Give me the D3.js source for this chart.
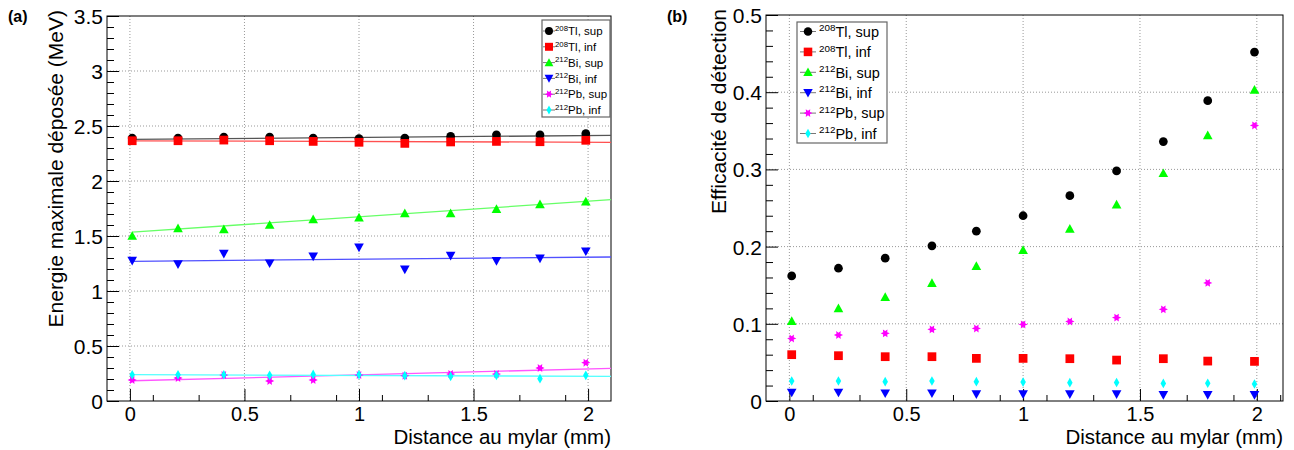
<!DOCTYPE html>
<html><head><meta charset="utf-8">
<script src="https://cdn.jsdelivr.net/npm/d3@7"></script>
<style>
html,body{margin:0;padding:0;background:#fff;}
svg{display:block;font-family:"Liberation Sans",Arial,Helvetica,sans-serif;}
</style></head>
<body><svg id="c" width="1294" height="450"></svg>
<script>
// ---------- data ----------
const distances = [0.01, 0.21, 0.41, 0.61, 0.80, 1.00, 1.20, 1.40, 1.60, 1.79, 1.99];
const seriesNames = ["Tl sup", "Tl inf", "Bi sup", "Bi inf", "Pb sup", "Pb inf"];
const isotopes = ["208", "208", "212", "212", "212", "212"];
const elements = ["Tl", "Tl", "Bi", "Bi", "Pb", "Pb"];
const sides = ["sup", "inf", "sup", "inf", "sup", "inf"];

// (a) maximal deposited energy (MeV)
const tlSupE = [2.39, 2.39, 2.40, 2.40, 2.39, 2.385, 2.39, 2.405, 2.42, 2.42, 2.43];
const tlInfE = [2.366, 2.366, 2.372, 2.366, 2.36, 2.352, 2.342, 2.355, 2.36, 2.357, 2.37];
const biSupE = [1.50, 1.57, 1.561, 1.60, 1.652, 1.667, 1.706, 1.706, 1.745, 1.788, 1.812];
const biInfE = [1.276, 1.245, 1.339, 1.252, 1.315, 1.397, 1.197, 1.321, 1.273, 1.297, 1.361];
const pbSupE = [0.191, 0.209, 0.236, 0.182, 0.191, 0.236, 0.230, 0.245, 0.245, 0.300, 0.348];
const pbInfE = [0.239, 0.239, 0.239, 0.233, 0.242, 0.239, 0.230, 0.224, 0.233, 0.203, 0.233];

// linear fits for (a): value at start and end of the fit range
const fitRange = [0.01, 2.1];
const tlSupFit = [2.378, 2.415];
const tlInfFit = [2.365, 2.352];
const biSupFit = [1.535, 1.830];
const biInfFit = [1.270, 1.309];
const pbSupFit = [0.184, 0.297];
const pbInfFit = [0.239, 0.224];

// (b) detection efficiency
const tlSupEff = [0.162, 0.172, 0.185, 0.201, 0.220, 0.240, 0.266, 0.298, 0.336, 0.389, 0.452];
const tlInfEff = [0.060, 0.0587, 0.0574, 0.0574, 0.0552, 0.0552, 0.0548, 0.053, 0.0548, 0.0517, 0.0513];
const biSupEff = [0.1035, 0.120, 0.1345, 0.1527, 0.1747, 0.1954, 0.223, 0.2545, 0.295, 0.344, 0.403];
const biInfEff = [0.011, 0.011, 0.010, 0.010, 0.009, 0.009, 0.009, 0.009, 0.008, 0.008, 0.008];
const pbSupEff = [0.081, 0.0855, 0.0876, 0.0928, 0.094, 0.0992, 0.103, 0.108, 0.1187, 0.153, 0.357];
const pbInfEff = [0.0259, 0.0259, 0.025, 0.0259, 0.025, 0.0245, 0.0237, 0.024, 0.0228, 0.023, 0.022];

const xTicks = [0, 0.5, 1, 1.5, 2];
const yTicksA = [0, 0.5, 1, 1.5, 2, 2.5, 3, 3.5];
const yTicksB = [0, 0.1, 0.2, 0.3, 0.4, 0.5];

const colors = ["#000000", "#ff0000", "#00ff00", "#0000ff", "#ff00ff", "#00ffff"];
const fitColors = ["#555555", "#ff5050", "#66ff66", "#5050ff", "#ff55ff", "#55ffff"];

// ---------- symbols ----------
function circlePath(r){return `M${r},0A${r},${r},0,1,1,${-r},0A${r},${r},0,1,1,${r},0Z`;}
function shape(i, s) {
  switch (i) {
    case 0: return circlePath(s * 0.95);
    case 1: { const h = s * 0.95; return `M${-h},${-h}H${h}V${h}H${-h}Z`; }
    case 2: { const h = s * 1.05; return `M0,${-h}L${h},${h*0.8}L${-h},${h*0.8}Z`; }
    case 3: { const h = s * 1.05; return `M0,${h}L${h},${-h*0.8}L${-h},${-h*0.8}Z`; }
    case 4: {
      let p = ""; const ro = s * 1.0, ri = s * 0.5;
      for (let k = 0; k < 12; k++) {
        const a = k * Math.PI / 6; const rr = k % 2 ? ri : ro;
        p += (k ? "L" : "M") + (rr * Math.cos(a)).toFixed(2) + "," + (rr * Math.sin(a)).toFixed(2);
      }
      return p + "Z";
    }
    case 5: { const w = s * 0.6, h = s * 1.05; return `M0,${-h}L${w},0L0,${h}L${-w},0Z`; }
  }
}

const svg = d3.select("#c");

function panel(cfg) {
  const g = svg.append("g");
  const x = d3.scaleLinear().domain(cfg.xDomain).range([cfg.left, cfg.right]);
  const y = d3.scaleLinear().domain(cfg.yDomain).range([cfg.bottom, cfg.top]);

  // grid
  g.append("g").selectAll("line").data(xTicks).join("line")
    .attr("x1", d => x(d)).attr("x2", d => x(d)).attr("y1", cfg.top).attr("y2", cfg.bottom)
    .attr("stroke", "#999").attr("stroke-width", 1).attr("stroke-dasharray", "1,2");
  g.append("g").selectAll("line").data(cfg.yTicks.filter(d => d > cfg.yDomain[0] && d < cfg.yDomain[1])).join("line")
    .attr("x1", cfg.left).attr("x2", cfg.right).attr("y1", d => y(d)).attr("y2", d => y(d))
    .attr("stroke", "#999").attr("stroke-width", 1).attr("stroke-dasharray", "1,2");

  // axes via d3
  const axx = g.append("g").attr("transform", `translate(0,${cfg.bottom})`)
    .call(d3.axisBottom(x).tickValues(xTicks).tickSize(-12).tickPadding(6).tickFormat(d3.format("")));
  const minorX = d3.range(-0.1, 2.11, 0.2).map(v => +v.toFixed(2)).filter(v => v > cfg.xDomain[0] && v < cfg.xDomain[1] && !xTicks.some(t => Math.abs(t - v) < 1e-6));
  g.append("g").attr("transform", `translate(0,${cfg.bottom})`)
    .call(d3.axisBottom(x).tickValues(minorX).tickSize(-6).tickFormat(""));
  const ay = g.append("g").attr("transform", `translate(${cfg.left},0)`)
    .call(d3.axisLeft(y).tickValues(cfg.yTicks).tickSize(-12).tickPadding(4).tickFormat(d3.format("")));
  g.append("g").attr("transform", `translate(${cfg.left},0)`)
    .call(d3.axisLeft(y).tickValues(cfg.yMinor).tickSize(-7).tickFormat(""));
  g.selectAll(".domain").remove();
  g.selectAll(".tick line").attr("stroke", "#000");
  g.selectAll(".tick text").attr("font-size", 21).attr("fill", "#000")
    .attr("font-family", '"Liberation Sans",Arial,sans-serif');
  ay.selectAll(".tick text").attr("dy", "0.36em");
  axx.selectAll(".tick text").attr("font-size", 20);

  // frame
  g.append("rect").attr("x", cfg.left).attr("y", cfg.top)
    .attr("width", cfg.right - cfg.left).attr("height", cfg.bottom - cfg.top)
    .attr("fill", "none").attr("stroke", "#000").attr("stroke-width", 1);

  // fits
  if (cfg.fits) {
    cfg.fits.forEach((f, i) => {
      g.append("line").attr("x1", x(fitRange[0])).attr("x2", x(fitRange[1]))
        .attr("y1", y(f[0])).attr("y2", y(f[1]))
        .attr("stroke", fitColors[i]).attr("stroke-width", 1.3);
    });
  }

  // markers
  cfg.series.forEach((vals, i) => {
    g.append("g").selectAll("path").data(vals).join("path")
      .attr("transform", (d, j) => `translate(${x(distances[j])},${y(d)})`)
      .attr("d", shape(i, cfg.msize)).attr("fill", colors[i]);
  });

  // axis titles
  g.append("text").attr("x", cfg.right).attr("y", 444).attr("text-anchor", "end")
    .attr("font-size", 20.5).text("Distance au mylar (mm)");
  g.append("text").attr("transform", `translate(${cfg.ytitleX},${cfg.top - 6}) rotate(-90)`)
    .attr("text-anchor", "end").attr("font-size", 21).text(cfg.ytitle);

  // panel label
  svg.append("text").attr("x", cfg.labelX).attr("y", 22).attr("font-size", 16)
    .attr("font-weight", "bold").text(cfg.label);

  // legend
  const L = cfg.legend;
  const lg = g.append("g");
  lg.append("rect").attr("x", L.x).attr("y", L.y).attr("width", L.w).attr("height", L.h)
    .attr("fill", "#fff").attr("stroke", "#666").attr("stroke-width", 1.2);
  seriesNames.forEach((n, i) => {
    const cy = L.y + L.first + i * L.step;
    lg.append("line").attr("x1", L.mx - L.lineHalf).attr("x2", L.mx + L.lineHalf)
      .attr("y1", cy).attr("y2", cy).attr("stroke", "#777").attr("stroke-width", 1);
    lg.append("path").attr("transform", `translate(${L.mx},${cy})`)
      .attr("d", shape(i, L.msize)).attr("fill", colors[i]);
    const t = lg.append("text").attr("x", L.tx).attr("y", cy + L.fs * 0.36).attr("font-size", L.fs);
    t.append("tspan").attr("font-size", L.fs * 0.68).attr("dy", -L.fs * 0.38).text(isotopes[i]);
    t.append("tspan").attr("dy", L.fs * 0.38).text(elements[i] + ", " + sides[i]);
  });
}

panel({
  left: 107, right: 611, top: 16, bottom: 401,
  xDomain: [-0.1, 2.1], yDomain: [0, 3.5],
  yTicks: yTicksA, yMinor: d3.range(0.1, 3.5, 0.1).map(v => +v.toFixed(2)).filter(v => Math.abs(v * 2 - Math.round(v * 2)) > 1e-6),
  series: [tlSupE, tlInfE, biSupE, biInfE, pbSupE, pbInfE],
  fits: [tlSupFit, tlInfFit, biSupFit, biInfFit, pbSupFit, pbInfFit],
  msize: 4.6,
  ytitle: "Energie maximale déposée (MeV)", ytitleX: 63,
  label: "(a)", labelX: 8,
  legend: { x: 542, y: 20, w: 68, h: 97, first: 11, step: 15.8, mx: 549, lineHalf: 6, msize: 4.2, tx: 555, fs: 11.5 }
});

panel({
  left: 766, right: 1283, top: 15, bottom: 401,
  xDomain: [-0.1, 2.112], yDomain: [0, 0.5],
  yTicks: yTicksB, yMinor: d3.range(0.02, 0.5, 0.02).map(v => +v.toFixed(3)).filter(v => Math.abs(v * 10 - Math.round(v * 10)) > 1e-6),
  series: [tlSupEff, tlInfEff, biSupEff, biInfEff, pbSupEff, pbInfEff],
  fits: null,
  msize: 4.6,
  ytitle: "Efficacité de détection", ytitleX: 726,
  label: "(b)", labelX: 667,
  legend: { x: 797, y: 22, w: 90, h: 121, first: 9.5, step: 20.4, mx: 808, lineHalf: 8, msize: 4.5, tx: 819, fs: 14.5 }
});
</script></body></html>
